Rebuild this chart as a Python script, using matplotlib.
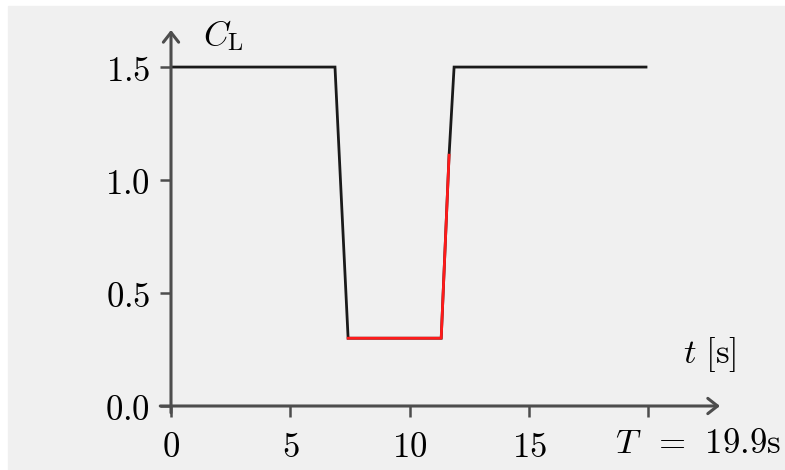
import matplotlib.pyplot as plt
from matplotlib.patches import Rectangle

plt.rcParams["mathtext.fontset"] = "cm"
plt.rcParams["font.family"] = "DejaVu Serif"

# lift coefficient schedule over the manoeuvre
t = [0, 6.87, 7.42, 11.32, 11.65, 11.86, 19.9]
cl = [1.5, 1.5, 0.3, 0.3, 1.11, 1.5, 1.5]
red_idx = slice(2, 5)

x_ticks = [0, 5, 10, 15]
x_labels = ["0", "5", "10", "15"]
y_ticks = [0.0, 0.5, 1.0, 1.5]
y_labels = ["0.0", "0.5", "1.0", "1.5"]
t_end_label = r"$T\;\;=\;\,19.9\mathrm{s}$"

axis_col = "#4d4d4d"
fs = 25

fig = plt.figure(figsize=(7.85, 4.7), dpi=100)
fig.patch.set_facecolor("white")
fig.patches.append(Rectangle((8 / 785, 0), 1, (470 - 6) / 470,
                             transform=fig.transFigure, color="#f0f0f0", zorder=-10))

ax = fig.add_axes([171 / 785, 64 / 470, (720 - 171) / 785, (406 - 30) / 470])
ax.set_facecolor("none")
ax.set_xlim(0, 23.0)
ax.set_ylim(0, 1.664)

ax.plot(t, cl, color="#1a1a1a", lw=2.0, solid_joinstyle="miter")
ax.plot(t[red_idx], cl[red_idx], color="#ff1a1a", lw=2.0)

for s in ax.spines.values():
    s.set_visible(False)

# axes with open arrow heads
arrow = dict(arrowstyle="->,head_length=0.7,head_width=0.55",
             color=axis_col, lw=2.2, shrinkA=0, shrinkB=0)
ax.annotate("", xy=(23.0, 0), xytext=(-0.45, 0), arrowprops=arrow,
            annotation_clip=False)
ax.annotate("", xy=(0, 1.664), xytext=(0, -0.03), arrowprops=arrow,
            annotation_clip=False)

ax.set_xticks(x_ticks + [20])
ax.set_xticklabels(["$%s$" % s for s in x_labels] + [""])
ax.set_yticks(y_ticks)
ax.set_yticklabels(["$%s$" % s for s in y_labels])
ax.tick_params(axis="both", direction="out", length=8, width=1.8, color=axis_col,
               labelsize=fs, pad=7)
ax.tick_params(axis="x", pad=9)

ax.text(18.6, -0.09, t_end_label, fontsize=fs, ha="left", va="top")
ax.text(1.35, 1.64, r"$C_\mathrm{L}$", fontsize=fs, ha="left", va="center")
ax.text(22.55, 0.23, r"$t\ [\mathrm{s}]$", fontsize=fs, ha="center", va="center")

fig.savefig("out.png", dpi=100)
